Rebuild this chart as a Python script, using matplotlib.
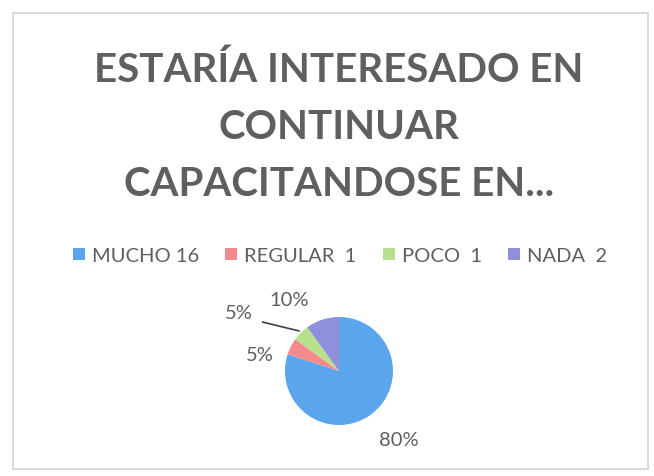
import matplotlib.pyplot as plt
import numpy as np
from matplotlib.patches import Rectangle, Patch

TITLE = "ESTARÍA INTERESADO EN\nCONTINUAR\nCAPACITANDOSE EN..."
categories = ["MUCHO", "REGULAR", "POCO", "NADA"]
counts = [16, 1, 1, 2]
legend_labels = ["MUCHO 16", "REGULAR  1", "POCO  1", "NADA  2"]
colors = ["#5aa5ec", "#f48a8c", "#b8e08c", "#8f8fdc"]

FG = "#5f5f5f"
FONT = "Lato"

fig = plt.figure(figsize=(6.54, 4.77), dpi=100, facecolor="white")

# chart frame
fig.patches.append(Rectangle((13 / 654, 7 / 477), 635 / 654, 456 / 477,
                             transform=fig.transFigure, fill=False,
                             edgecolor="#cfd3d8", linewidth=1.2))

fig.text(0.518, 0.893, TITLE, ha="center", va="top", color=FG,
         fontsize=29, fontweight="bold", family=FONT, linespacing=1.68)

# pie
ax = fig.add_axes([231 / 654, -3 / 477, 216 / 654, 216 / 477])
ax.pie(counts, colors=colors, startangle=90, counterclock=False,
       wedgeprops={"linewidth": 0})
ax.set_xlim(-2, 2)
ax.set_ylim(-2, 2)
ax.set_aspect("equal")
ax.axis("off")

total = sum(counts)
dist = [1.68, 1.5, 2.15, 1.62]
nudge = [5, 15, 15, 17]
start = 90
for i, c in enumerate(counts):
    span = 360 * c / total
    mid = np.deg2rad(start - span / 2 + nudge[i])
    x, y = dist[i] * np.cos(mid), dist[i] * np.sin(mid)
    ax.text(x, y, f"{c / total:.0%}", ha="center", va="center",
            color=FG, fontsize=14.5, family=FONT)
    if i == 2:
        m = np.deg2rad(start - span / 2)
        ax.plot([x + 0.45, 1.05 * np.cos(m)], [y - 0.17, 1.05 * np.sin(m)],
                color="#404040", linewidth=1.2)
    start -= span

handles = [Patch(facecolor=col, edgecolor="none") for col in colors]
fig.legend(handles, legend_labels, loc="center", bbox_to_anchor=(0.52, 0.462),
           ncol=4, frameon=False, labelcolor=FG,
           handlelength=0.6, handleheight=0.6, handletextpad=0.35,
           columnspacing=1.3, prop={"family": FONT, "size": 14.5})

fig.savefig("out.png", dpi=100, facecolor="white")
